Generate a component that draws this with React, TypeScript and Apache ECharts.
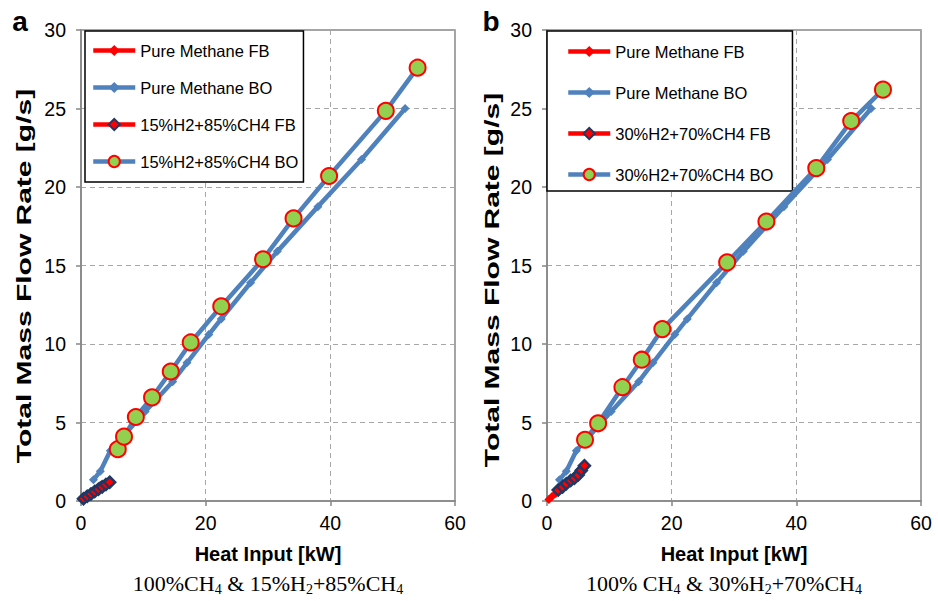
import React, { useEffect, useRef } from "react";
import * as echarts from "echarts";

// ---------- data ----------
const pureFB: number[][] = [[0.3, 0.1], [0.8, 0.28], [1.4, 0.47], [2.0, 0.65], [2.5, 0.82], [3.1, 1.0]];
const pureBO: number[][] = [[2.0, 1.35], [3.1, 1.9], [4.7, 3.2], [10.3, 5.7], [14.7, 7.6], [17.0, 8.8], [20.5, 10.6], [22.5, 11.6], [27.2, 13.9], [31.5, 15.9], [38.0, 18.75], [45.0, 21.75], [52.0, 25.0]];
const h15FB: number[][] = [[0.4, 0.15], [1.0, 0.3], [1.6, 0.45], [2.2, 0.6], [2.8, 0.75], [3.4, 0.9], [4.0, 1.05], [4.6, 1.2]];
const h15BO: number[][] = [[5.9, 3.3], [6.9, 4.1], [8.8, 5.35], [11.4, 6.6], [14.4, 8.25], [17.6, 10.1], [22.5, 12.4], [29.2, 15.4], [34.1, 18.0], [39.8, 20.7], [48.9, 24.85], [54.0, 27.6]];
const h30FB: number[][] = [[1.8, 0.7], [2.5, 0.9], [3.1, 1.1], [3.8, 1.3], [4.4, 1.45], [5.0, 1.65], [5.5, 1.95], [6.0, 2.25]];
const h30BO: number[][] = [[6.1, 3.9], [8.2, 4.95], [12.1, 7.25], [15.2, 9.0], [18.5, 10.95], [28.9, 15.2], [35.2, 17.8], [43.2, 21.2], [48.8, 24.2], [53.9, 26.2]];

const namesA = ["Pure Methane FB", "Pure Methane BO", "15%H2+85%CH4 FB", "15%H2+85%CH4 BO"];
const namesB = ["Pure Methane FB", "Pure Methane BO", "30%H2+70%CH4 FB", "30%H2+70%CH4 BO"];
const xTitle = "Heat Input [kW]";
const yTitle = "Total Mass Flow Rate [g/s]";
const xMin = 0, xMax = 60, xStep = 20;
const yMin = 0, yMax = 30, yStep = 5;

const RED = "#FF0000";
const BLUE = "#4F81BD";
const NAVY = "#1F3864";
const GREEN = "#92D050";
const AXIS = "#868686";
const SANS = "Liberation Sans, Arial, sans-serif";
const SERIF = "Liberation Serif, Times New Roman, serif";

function makeSeries(names: string[], fb: number[][], bo: number[][], idx: number) {
  return [
    {
      type: "line", name: names[0], xAxisIndex: idx, yAxisIndex: idx, data: pureFB,
      lineStyle: { color: RED, width: 4.5 }, itemStyle: { color: RED },
      symbol: "diamond", symbolSize: 9, z: 2,
    },
    {
      type: "line", name: names[1], xAxisIndex: idx, yAxisIndex: idx, data: pureBO,
      lineStyle: { color: BLUE, width: 4.5 }, itemStyle: { color: BLUE },
      symbol: "diamond", symbolSize: 9, z: 3,
    },
    {
      type: "line", name: names[2], xAxisIndex: idx, yAxisIndex: idx, data: fb,
      lineStyle: { color: RED, width: 4.5 }, itemStyle: { color: RED, borderColor: NAVY, borderWidth: 2.5 },
      symbol: "diamond", symbolSize: 11, z: 4,
    },
    {
      type: "line", name: names[3], xAxisIndex: idx, yAxisIndex: idx, data: bo,
      lineStyle: { color: BLUE, width: 4.5 }, itemStyle: { color: GREEN, borderColor: RED, borderWidth: 2 },
      symbol: "circle", symbolSize: 16, z: 5,
    },
  ];
}

function xAxisCfg(idx: number) {
  return {
    type: "value", gridIndex: idx, min: xMin, max: xMax, interval: xStep,
    axisLine: { show: true, onZero: false, lineStyle: { color: AXIS, width: 1.5 } },
    axisTick: { show: true, inside: false, length: 5, lineStyle: { color: AXIS, width: 1.5 } },
    axisLabel: { color: "#000", fontSize: 19.5, fontFamily: SANS, margin: 12 },
    splitLine: { show: true, lineStyle: { color: "#a6a6a6", width: 1, type: [5, 4] } },
    name: xTitle, nameLocation: "middle", nameGap: 43,
    nameTextStyle: { color: "#000", fontSize: 20, fontWeight: "bold", fontFamily: SANS },
  };
}

function yAxisCfg(idx: number) {
  return {
    type: "value", gridIndex: idx, min: yMin, max: yMax, interval: yStep,
    axisLine: { show: true, onZero: false, lineStyle: { color: AXIS, width: 1.5 } },
    axisTick: { show: true, inside: false, length: 5, lineStyle: { color: AXIS, width: 1.5 } },
    axisLabel: { color: "#000", fontSize: 19.5, fontFamily: SANS, margin: 15 },
    splitLine: { show: true, lineStyle: { color: "#a6a6a6", width: 1, type: [5, 4] } },
  };
}

function legendCfg(names: string[], left: number, pad: number[], gap: number) {
  return {
    data: names, orient: "vertical", left, top: 31,
    itemWidth: 42, itemHeight: 14, itemGap: gap,
    padding: pad,
    lineStyle: { width: 4.5 },
    backgroundColor: "#fff", borderColor: "#000", borderWidth: 1.5, borderRadius: 0,
    textStyle: { color: "#000", fontSize: 16.5, fontFamily: SANS },
  };
}

function caption(x: number, parts: string[][]) {
  const text = parts.map(([s, t]) => `{${s}|${t}}`).join("");
  return {
    type: "text", x, y: 584,
    style: {
      text,
      align: "center", verticalAlign: "middle",
      fontFamily: SERIF,
      rich: {
        m: { fontSize: 22, fontFamily: SERIF, color: "#000", lineHeight: 24, verticalAlign: "top" },
        s: { fontSize: 14, fontFamily: SERIF, color: "#000", lineHeight: 14, verticalAlign: "bottom" },
      },
    },
  };
}

function yTitleText(x: number, y: number) {
  return {
    type: "text", x, y, rotation: Math.PI / 2, scaleX: 1.5,
    style: { text: yTitle, fontSize: 20, fontWeight: "bold", fontFamily: SANS, fill: "#000", align: "center", verticalAlign: "middle" },
  };
}

export default function App() {
  const ref = useRef<HTMLDivElement>(null);
  useEffect(() => {
    if (!ref.current) return;
    const chart = echarts.init(ref.current, undefined, { renderer: "svg" });
    const option: any = {
      animation: false,
      backgroundColor: "#fff",
      grid: [
        { left: 81, top: 30, width: 374, height: 471, show: true, borderColor: AXIS, borderWidth: 1.5, backgroundColor: "transparent" },
        { left: 547, top: 30, width: 374, height: 471, show: true, borderColor: AXIS, borderWidth: 1.5, backgroundColor: "transparent" },
      ],
      xAxis: [xAxisCfg(0), xAxisCfg(1)],
      yAxis: [yAxisCfg(0), yAxisCfg(1)],
      legend: [
        legendCfg(namesA, 85, [11, 5, 12, 6], 20),
        legendCfg(namesB, 547, [12, 19, 8, 19], 24),
      ],
      series: [
        ...makeSeries(namesA, h15FB, h15BO, 0),
        ...makeSeries(namesB, h30FB, h30BO, 1),
      ],
      graphic: [
        { type: "text", x: 20, y: 21, style: { text: "a", fontSize: 28, fontWeight: "bold", fontFamily: SANS, fill: "#000", align: "center", verticalAlign: "middle" } },
        { type: "text", x: 491, y: 21, style: { text: "b", fontSize: 28, fontWeight: "bold", fontFamily: SANS, fill: "#000", align: "center", verticalAlign: "middle" } },
        yTitleText(24, 276),
        yTitleText(492, 280),
        caption(268, [["m", "100%CH"], ["s", "4"], ["m", " & 15%H"], ["s", "2"], ["m", "+85%CH"], ["s", "4"]]),
        caption(724, [["m", "100% CH"], ["s", "4"], ["m", " & 30%H"], ["s", "2"], ["m", "+70%CH"], ["s", "4"]]),
      ],
    };
    chart.setOption(option);
    return () => chart.dispose();
  }, []);
  return <div ref={ref} style={{ position: "absolute", left: 0, top: 0, width: 938, height: 601 }} />;
}
